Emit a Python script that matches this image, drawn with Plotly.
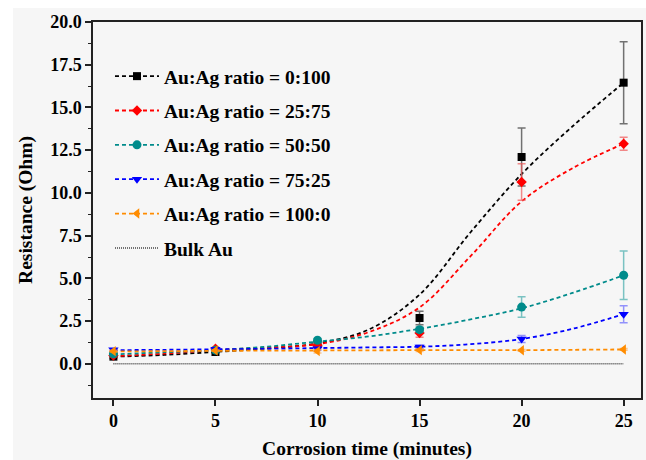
import plotly.graph_objects as go

# ---- data ----
time_min = [0, 5, 10, 15, 20, 25]

r_0_100 = [0.42, 0.69, 1.15, 2.68, 12.1, 16.45]
e_0_100 = [0.08, 0.06, 0.15, 0.4, 1.7, 2.4]
r_25_75 = [0.48, 0.88, 1.08, 1.8, 10.64, 12.88]
e_25_75 = [0.06, 0.08, 0.1, 0.25, 1.07, 0.38]
r_50_50 = [0.58, 0.8, 1.38, 2.0, 3.32, 5.18]
e_50_50 = [0.05, 0.05, 0.1, 0.15, 0.6, 1.42]
r_75_25 = [0.82, 0.85, 0.88, 0.98, 1.45, 2.9]
e_75_25 = [0.06, 0.05, 0.08, 0.1, 0.2, 0.5]
r_100_0 = [0.74, 0.78, 0.74, 0.8, 0.79, 0.84]
e_100_0 = [0.05, 0.05, 0.1, 0.08, 0.05, 0.05]
bulk_au = [0, 0, 0, 0, 0, 0]

# fitted (dashed) curves
fit_t = [0, 2.5, 5, 7.5, 10, 12.5, 15, 17.5, 20, 22.5, 25]
fit_0_100 = [0.42, 0.52, 0.7, 0.9, 1.2, 2.0, 4.05, 7.7, 11.1, 13.9, 16.45]
fit_25_75 = [0.45, 0.6, 0.8, 0.95, 1.15, 1.85, 3.3, 6.3, 9.5, 11.45, 12.88]
fit_50_50 = [0.55, 0.68, 0.8, 1.0, 1.3, 1.6, 2.05, 2.6, 3.25, 4.15, 5.18]
fit_75_25 = [0.8, 0.82, 0.85, 0.88, 0.92, 0.96, 1.0, 1.15, 1.45, 2.05, 2.9]
fit_100_0 = [0.72, 0.74, 0.76, 0.77, 0.78, 0.79, 0.8, 0.8, 0.8, 0.82, 0.84]

labels = ["Au:Ag ratio = 0:100", "Au:Ag ratio = 25:75", "Au:Ag ratio = 50:50",
          "Au:Ag ratio = 75:25", "Au:Ag ratio = 100:0"]
y_label = "Resistance (Ohm)"
x_label = "Corrosion time (minutes)"
bulk_label = "Bulk Au"

series = [
    (labels[0], r_0_100, e_0_100, fit_0_100, "#000000", "rgba(80,80,80,0.8)", "square", 8),
    (labels[1], r_25_75, e_25_75, fit_25_75, "#ff0000", "rgba(240,90,90,0.7)", "diamond", 8),
    (labels[2], r_50_50, e_50_50, fit_50_50, "#008b8b", "rgba(40,160,160,0.6)", "circle", 9),
    (labels[3], r_75_25, e_75_25, fit_75_25, "#0000ff", "rgba(80,80,255,0.6)", "triangle-down", 9),
    (labels[4], r_100_0, e_100_0, fit_100_0, "#ff8c00", "rgba(255,160,60,0.6)", "triangle-left", 9),
]

fig = go.Figure()
DASH = "4px,3px"
for i, (name, y, e, fy, col, ecol, sym, sz) in enumerate(series):
    fig.add_trace(go.Scatter(x=fit_t, y=fy, mode="lines", line=dict(color=col, width=1.8, dash=DASH, shape="spline", smoothing=1.0),
                             showlegend=False, hoverinfo="skip"))
    fig.add_trace(go.Scatter(x=time_min, y=y, mode="markers",
                             marker=dict(symbol=sym, size=sz, color=col, line=dict(width=0)),
                             error_y=dict(type="data", array=e, visible=True, color=ecol, thickness=1.5, width=4),
                             showlegend=False))
    # legend entry (line + marker sample)
    fig.add_trace(go.Scatter(x=[None], y=[None], mode="lines+markers", name=name, legendgroup=f"g{i}",
                             line=dict(color=col, width=1.8, dash=DASH),
                             marker=dict(symbol=sym, size=sz, color=col)))

fig.add_trace(go.Scatter(x=time_min, y=bulk_au, mode="lines", name=bulk_label, legendgroup="g5",
                         line=dict(color="#444444", width=1.5, dash="1px,1px")))

bg = "#f6f6f6"
fig.add_shape(type="rect", xref="paper", yref="paper", x0=-0.146, x1=1.1, y0=-0.2, y1=1.037,
              fillcolor=bg, line=dict(width=0), layer="below")

font_family = "Liberation Serif, Times New Roman, serif"
fig.update_layout(
    width=646, height=460,
    margin=dict(l=93, r=5, t=22, b=62, autoexpand=False),
    paper_bgcolor="white", plot_bgcolor="rgba(0,0,0,0)",
    font=dict(family=font_family, size=18, color="black", weight="bold"),
    legend=dict(x=0.031, y=0.907, xanchor="left", yanchor="top", bgcolor="rgba(0,0,0,0)",
                font=dict(size=19.5, family=font_family, weight="bold"),
                traceorder="grouped", tracegroupgap=6, itemwidth=44),
    xaxis=dict(range=[-1, 25.85], tickmode="linear", tick0=0, dtick=5, ticks="outside", ticklen=6,
               tickwidth=1.5, tickcolor="#222", showline=True, linecolor="#222", linewidth=1.5, mirror=True,
               showgrid=False, zeroline=False, automargin=False,
               title=dict(text=x_label, font=dict(size=19.5), standoff=12)),
    yaxis=dict(range=[-2, 20], tickmode="linear", tick0=0, dtick=2.5, tickformat=".1f", ticks="outside", ticklen=6,
               tickwidth=1.5, tickcolor="#222", showline=True, linecolor="#222", linewidth=1.5, mirror=True,
               showgrid=False, zeroline=False, automargin=False,
               minor=dict(dtick=1.25, tick0=0, ticks="outside", ticklen=3, tickwidth=1.2, tickcolor="#222"),
               title=dict(text=y_label, font=dict(size=19.5), standoff=12)),
)

fig.write_html("out.html")
